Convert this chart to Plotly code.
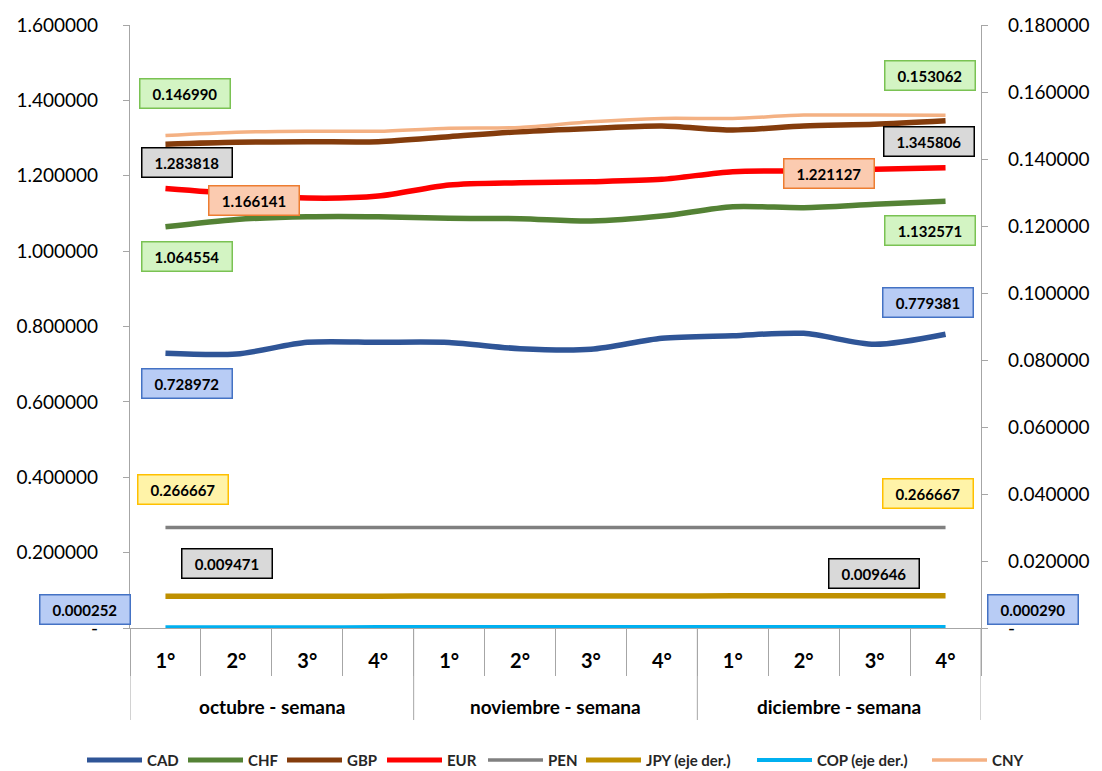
import plotly.graph_objects as go

# ---------------- data ----------------
month_names = ["octubre - semana", "noviembre - semana", "diciembre - semana"]
weeks = ["1°", "2°", "3°", "4°"] * 3

cad = [0.728972, 0.7270, 0.7580, 0.7580, 0.7575, 0.7410, 0.7395, 0.7686, 0.7756, 0.7818, 0.7527, 0.779381]
chf = [1.064554, 1.0841, 1.0913, 1.0913, 1.0870, 1.0860, 1.0799, 1.0931, 1.1179, 1.1152, 1.1241, 1.132571]
gbp = [1.283818, 1.2887, 1.2904, 1.2904, 1.3036, 1.3169, 1.3255, 1.3319, 1.3213, 1.3320, 1.3364, 1.345806]
eur = [1.166141, 1.1520, 1.1410, 1.1460, 1.1754, 1.1815, 1.1844, 1.1905, 1.2109, 1.2125, 1.2170, 1.221127]
pen = [0.266667] * 12
jpy = [0.009471, 0.009480, 0.009492, 0.009500, 0.009550, 0.009520, 0.009555, 0.009580, 0.009600, 0.009620, 0.009630, 0.009646]
cop = [0.000252, 0.000255, 0.000258, 0.000262, 0.000265, 0.000268, 0.000270, 0.000275, 0.000280, 0.000282, 0.000286, 0.000290]
cny = [0.146990, 0.1480, 0.1483, 0.1483, 0.1492, 0.1494, 0.1511, 0.1521, 0.1521, 0.1531, 0.1531, 0.153062]

left_ticks = [0, 0.2, 0.4, 0.6, 0.8, 1.0, 1.2, 1.4, 1.6]
left_text = ["-", "0.200000", "0.400000", "0.600000", "0.800000", "1.000000", "1.200000", "1.400000", "1.600000"]
right_ticks = [0, 0.02, 0.04, 0.06, 0.08, 0.10, 0.12, 0.14, 0.16, 0.18]
right_text = ["-", "0.020000", "0.040000", "0.060000", "0.080000", "0.100000", "0.120000", "0.140000", "0.160000", "0.180000"]

# ---------------- styling ----------------
xpos = list(range(len(weeks)))
series = [
    ("CAD", cad, "#2F5597", 5.5, "y"),
    ("CHF", chf, "#548235", 5.5, "y"),
    ("GBP", gbp, "#843C0C", 5.5, "y"),
    ("EUR", eur, "#FF0000", 5.5, "y"),
    ("PEN", pen, "#808080", 3.5, "y"),
    ("JPY (eje der.)", jpy, "#BF9000", 5.5, "y2"),
    ("COP (eje der.)", cop, "#00B0F0", 4, "y2"),
    ("CNY", cny, "#F4B183", 3.5, "y2"),
]

FONT = "Lato, 'Open Sans', sans-serif"

# page geometry (the page body adds an 8px offset)
FIG_W, FIG_H = 1094, 763
ML, MR, MT, MB = 122, 121, 17, 143
PLOT_L, PLOT_R, PLOT_T, PLOT_B = 130, 981, 25, 628   # plot area in page pixels


def px_to_paper_x(px):
    return (px - PLOT_L) / (PLOT_R - PLOT_L)


def px_to_paper_y(py):
    return (PLOT_B - py) / (PLOT_B - PLOT_T)


fig = go.Figure()
for name, vals, color, w, ax in series:
    fig.add_trace(go.Scatter(
        x=xpos, y=vals, name=name, mode="lines", yaxis=ax,
        line=dict(color=color, width=w, shape="spline", smoothing=0.8),
        hoverinfo="skip", showlegend=False,
    ))

box = {
    "green": ("#D3F4C3", "#7AC253"),
    "gray": ("#D9D9D9", "#000000"),
    "orange": ("#FBCBB0", "#ED7D31"),
    "blue": ("#B8CCF5", "#4472C4"),
    "yellow": ("#FFF3A8", "#FFC000"),
}

# (series values, index, axis, style, xshift, yshift)
labels = [
    (cny, 0, "y2", "green", 19.5, 41.6),
    (gbp, 0, "y", "gray", 22, -18.4),
    (eur, 0, "y", "orange", 89, -11.5),
    (chf, 0, "y", "green", 21.5, -29.2),
    (cad, 0, "y", "blue", 22, -30.3),
    (pen, 0, "y", "yellow", 17.5, 38.5),
    (jpy, 0, "y2", "gray", 61.5, 32.3),
    (cop, 0, "y2", "blue", -80.5, 17.2),
    (cny, 11, "y2", "green", -16, 39.7),
    (gbp, 11, "y", "gray", -16.5, -20.7),
    (eur, 11, "y", "orange", -116.5, -5.7),
    (chf, 11, "y", "green", -16, -29.4),
    (cad, 11, "y", "blue", -17.5, 31.8),
    (pen, 11, "y", "yellow", -17.5, 34),
    (jpy, 11, "y2", "gray", -71.5, 21.7),
    (cop, 11, "y2", "blue", 87.5, 17.5),
]
for vals, i, ax, style, xs, ys in labels:
    bg, bc = box[style]
    fig.add_annotation(
        x=xpos[i], xref="x", y=vals[i], yref=ax,
        text="%.6f" % vals[i], showarrow=False,
        xshift=xs, yshift=ys, xanchor="center", yanchor="middle",
        bgcolor=bg, bordercolor=bc, borderwidth=1.5, borderpad=0,
        width=89, height=28,
        font=dict(family=FONT, size=15, color="#000000", weight="bold"),
    )

axis_col = "#A6A6A6"

# month group labels and separators below the week labels
for m, name in enumerate(month_names):
    fig.add_annotation(
        x=m * 4 + 1.5, xref="x", y=px_to_paper_y(706), yref="paper", text=name,
        showarrow=False, xanchor="center", yanchor="middle",
        font=dict(family=FONT, size=19, color="#000000", weight="bold"),
    )
for b in [-0.5, 3.5, 7.5, 11.5]:
    fig.add_shape(type="line", xref="x", yref="paper", x0=b, x1=b, y0=0, y1=px_to_paper_y(720),
                  line=dict(color=axis_col, width=1))

# legend drawn as line samples + text (long sample lines as in the original)
legend_line_x = [87, 188, 287, 387, 488, 586, 757, 932]
LEG_Y = 760
LEG_LEN = 55
for (name, vals, color, w, ax), lx in zip(series, legend_line_x):
    fig.add_shape(type="line", xref="paper", yref="paper",
                  x0=px_to_paper_x(lx), x1=px_to_paper_x(lx + LEG_LEN),
                  y0=px_to_paper_y(LEG_Y), y1=px_to_paper_y(LEG_Y),
                  line=dict(color=color, width=min(w, 5)))
    fig.add_annotation(x=px_to_paper_x(lx + LEG_LEN + 3), xref="paper",
                       y=px_to_paper_y(LEG_Y), yref="paper", text=name,
                       showarrow=False, xanchor="left", yanchor="middle",
                       font=dict(family=FONT, size=15, color="#262626", weight="bold"))

boundaries = [i - 0.5 for i in range(len(weeks) + 1)]

fig.update_layout(
    width=FIG_W, height=FIG_H,
    margin=dict(l=ML, r=MR, t=MT, b=MB, autoexpand=False),
    paper_bgcolor="white", plot_bgcolor="white",
    showlegend=False,
    xaxis=dict(
        range=[-0.5, 11.5], tickvals=xpos, ticktext=weeks, ticks="",
        showline=True, linecolor=axis_col, linewidth=1.3,
        minor=dict(tickvals=boundaries, ticks="outside", ticklen=47, tickcolor=axis_col, tickwidth=1),
        ticklabelstandoff=15,
        tickfont=dict(family=FONT, size=20, color="#000000", weight="bold"),
        showgrid=False, zeroline=False, automargin=False,
    ),
    yaxis=dict(
        range=[0, 1.6], tickvals=left_ticks, ticktext=left_text,
        showline=True, linecolor=axis_col, linewidth=1.3,
        ticks="outside", ticklen=6, tickcolor=axis_col,
        ticklabelstandoff=21,
        tickfont=dict(family=FONT, size=19, color="#000000"),
        showgrid=False, zeroline=False, automargin=False,
    ),
    yaxis2=dict(
        range=[0, 0.18], tickvals=right_ticks, ticktext=right_text,
        overlaying="y", side="right",
        showline=True, linecolor=axis_col, linewidth=1.3,
        ticks="outside", ticklen=6, tickcolor=axis_col,
        ticklabelstandoff=16,
        tickfont=dict(family=FONT, size=19, color="#000000"),
        showgrid=False, zeroline=False, automargin=False,
    ),
)

fig.write_html("out.html")
